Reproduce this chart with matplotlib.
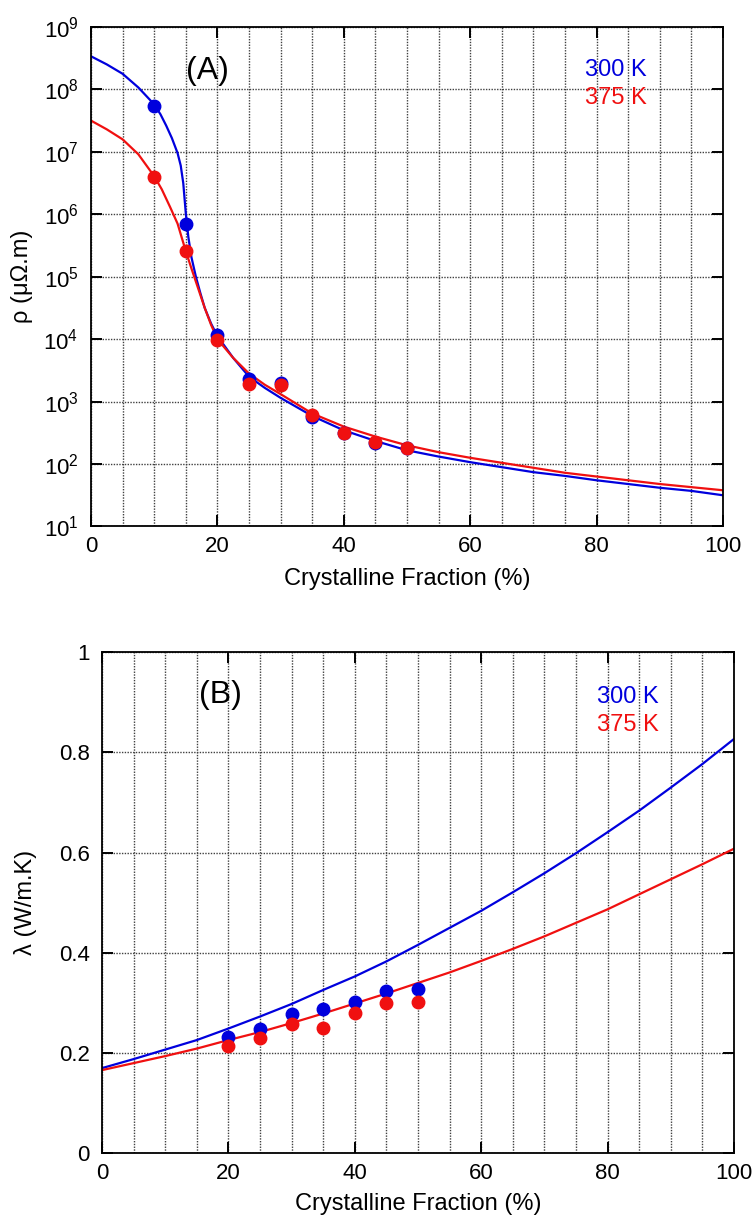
import matplotlib
matplotlib.use('Agg')
import matplotlib.pyplot as plt
import numpy as np
from matplotlib.ticker import MultipleLocator, FixedLocator, NullLocator, FuncFormatter

plt.rcParams['font.family'] = ['Liberation Sans', 'DejaVu Sans']

# (A) resistivity vs crystalline fraction (log10 of rho)
frac_pts = [10, 15, 20, 25, 30, 35, 40, 45, 50]
log_rho_300_pts = [7.74, 5.84, 4.07, 3.36, 3.30, 2.76, 2.49, 2.33, 2.26]
log_rho_375_pts = [6.60, 5.41, 3.99, 3.28, 3.26, 2.78, 2.49, 2.35, 2.26]

fit_x_300 = [0, 2.5, 5, 7.5, 10, 11, 11.9, 12.8, 13.7, 14.2, 14.6, 15.0, 15.4, 15.9, 16.6, 17.3, 18, 19, 20,
             22.5, 25, 27.5, 30, 35, 40, 45, 50, 55, 60, 65, 70, 75, 80, 85, 90, 95, 100]
log_rho_fit_300 = [8.53, 8.40, 8.25, 8.03, 7.76, 7.60, 7.42, 7.22, 6.98, 6.78, 6.50, 6.02, 5.64, 5.31, 5.00,
                   4.74, 4.50, 4.25, 4.05, 3.70, 3.40, 3.22, 3.06, 2.77, 2.54, 2.37, 2.22, 2.12, 2.03,
                   1.95, 1.87, 1.81, 1.74, 1.68, 1.62, 1.57, 1.50]
fit_x_375 = [0, 2.5, 5, 7.5, 10, 11.2, 12.5, 13.7, 15, 16, 17, 18, 19, 20,
             22.5, 25, 27.5, 30, 35, 40, 45, 50, 55, 60, 65, 70, 75, 80, 85, 90, 95, 100]
log_rho_fit_375 = [7.50, 7.36, 7.20, 6.96, 6.61, 6.40, 6.12, 5.85, 5.41, 5.10, 4.80, 4.50, 4.23, 4.00,
                   3.70, 3.45, 3.27, 3.12, 2.81, 2.60, 2.44, 2.30, 2.19, 2.10, 2.02, 1.94, 1.86,
                   1.80, 1.74, 1.68, 1.63, 1.58]

# (B) thermal conductivity
frac_pts_b = [20, 25, 30, 35, 40, 45, 50]
lam_300_pts = [0.233, 0.248, 0.279, 0.288, 0.301, 0.323, 0.327]
lam_375_pts = [0.215, 0.231, 0.258, 0.250, 0.280, 0.300, 0.302]

fit_x_b = [0, 5, 10, 15, 20, 25, 30, 35, 40, 45, 50, 55, 60, 65, 70, 75, 80, 85, 90, 95, 100]
lam_fit_300 = [0.170, 0.188, 0.207, 0.226, 0.249, 0.273, 0.298, 0.326, 0.353, 0.383, 0.416,
               0.450, 0.484, 0.521, 0.559, 0.599, 0.641, 0.684, 0.730, 0.777, 0.827]
lam_fit_375 = [0.166, 0.180, 0.194, 0.209, 0.226, 0.242, 0.260, 0.279, 0.299, 0.319, 0.340,
               0.361, 0.384, 0.408, 0.433, 0.460, 0.487, 0.517, 0.547, 0.577, 0.608]

blue = '#0000dd'
red = '#f01010'

fig = plt.figure(figsize=(7.55, 12.19), dpi=100)
axA = fig.add_axes([0.1205, 0.5681, 0.8371, 0.4098])
axB = fig.add_axes([0.1351, 0.0539, 0.8371, 0.4110])


def style_axes(ax):
    ax.set_xlim(0, 100)
    ax.xaxis.set_major_locator(MultipleLocator(20))
    ax.xaxis.set_minor_locator(MultipleLocator(5))
    ax.grid(which='both', axis='x', color='0.25', linestyle=(0, (1, 1)), linewidth=1.0)
    ax.grid(which='major', axis='y', color='0.25', linestyle=(0, (1, 1)), linewidth=1.0)
    ax.tick_params(which='major', direction='in', length=8, width=1.4,
                   top=True, right=True, labelsize=16)
    ax.tick_params(which='minor', length=0)
    ax.tick_params(axis='y', pad=9)
    ax.tick_params(axis='x', pad=7)
    for s in ax.spines.values():
        s.set_linewidth(1.3)
    ax.set_axisbelow(True)
    ax.set_xlabel('Crystalline Fraction (%)', fontsize=17)


# panel A
axA.plot(fit_x_300, 10 ** np.array(log_rho_fit_300), color=blue, lw=1.6)
axA.plot(fit_x_375, 10 ** np.array(log_rho_fit_375), color=red, lw=1.6)
axA.plot(frac_pts, 10 ** np.array(log_rho_300_pts), 'o', color=blue, ms=9)
axA.plot(frac_pts, 10 ** np.array(log_rho_375_pts), 'o', color=red, ms=9)
axA.set_yscale('log')
axA.set_ylim(10, 1e9)
axA.yaxis.set_major_locator(FixedLocator([10.0 ** k for k in range(1, 10)]))
axA.yaxis.set_minor_locator(NullLocator())
style_axes(axA)
axA.set_ylabel('ρ (μΩ.m)', fontsize=17)
axA.yaxis.set_label_coords(-0.092, 0.5)
axA.xaxis.set_label_coords(0.5, -0.084)
axA.text(0.185, 0.911, '(A)', transform=axA.transAxes, fontsize=23, ha='center', va='center')
axA.text(0.782, 0.913, '300 K', transform=axA.transAxes, fontsize=17, color=blue, va='center')
axA.text(0.782, 0.857, '375 K', transform=axA.transAxes, fontsize=17, color=red, va='center')

# panel B
axB.plot(fit_x_b, lam_fit_300, color=blue, lw=1.6)
axB.plot(fit_x_b, lam_fit_375, color=red, lw=1.6)
axB.plot(frac_pts_b, lam_300_pts, 'o', color=blue, ms=9)
axB.plot(frac_pts_b, lam_375_pts, 'o', color=red, ms=9)
axB.yaxis.set_major_locator(MultipleLocator(0.2))
axB.yaxis.set_minor_locator(NullLocator())
axB.yaxis.set_major_formatter(FuncFormatter(lambda v, _: '{:g}'.format(round(v, 2))))
axB.set_ylim(0, 1)
style_axes(axB)
axB.set_ylabel('λ (W/m.K)', fontsize=17)
axB.yaxis.set_label_coords(-0.103, 0.5)
axB.xaxis.set_label_coords(0.5, -0.08)
axB.text(0.187, 0.915, '(B)', transform=axB.transAxes, fontsize=23, ha='center', va='center')
axB.text(0.783, 0.911, '300 K', transform=axB.transAxes, fontsize=17, color=blue, va='center')
axB.text(0.783, 0.855, '375 K', transform=axB.transAxes, fontsize=17, color=red, va='center')

fig.savefig('out.png', dpi=100)
